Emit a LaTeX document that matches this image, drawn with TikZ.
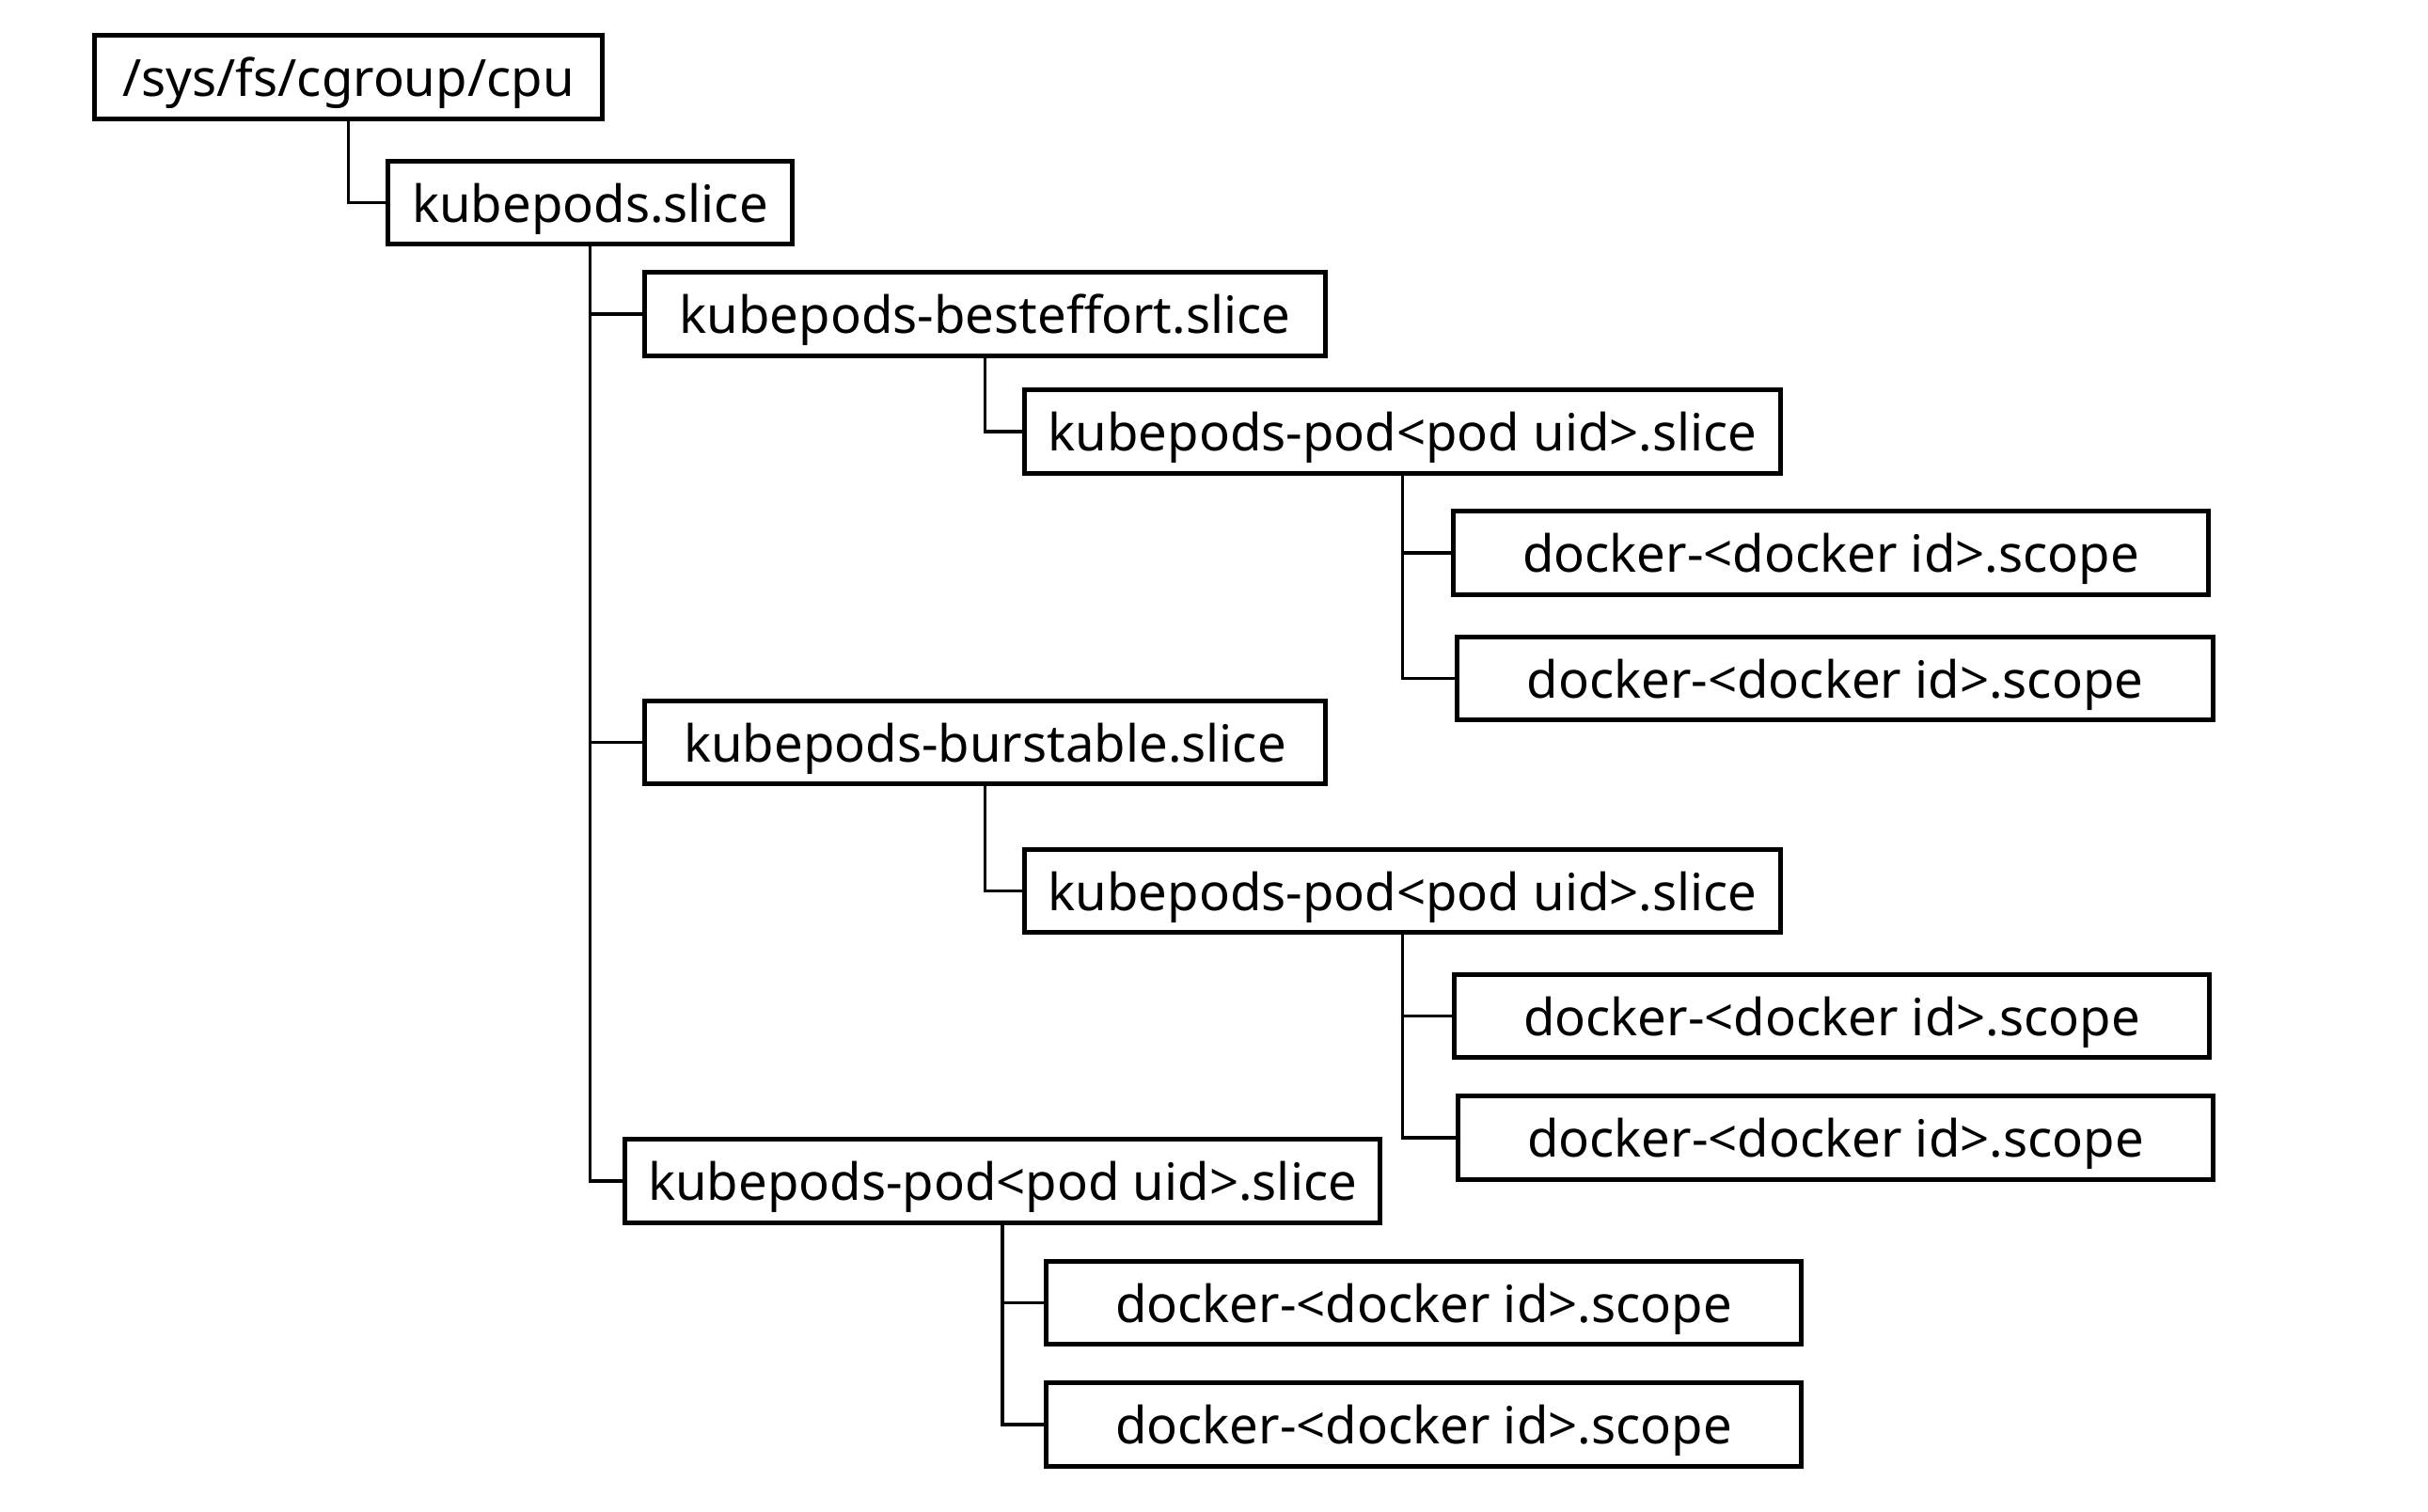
\documentclass[tikz,border=0pt]{standalone}
\usepackage{fontspec}
\setmainfont{Noto Sans}
\usetikzlibrary{positioning}

\begin{document}
\begin{tikzpicture}[
    box/.style={draw, line width=1.4pt, minimum height=0.885cm, inner sep=0pt,
        text height=11.8pt, text depth=0pt,
        font=\fontsize{15.5}{18}\selectfont},
    rootbox/.style={box, minimum width=5.405cm},
    kubebox/.style={box, minimum width=4.305cm},
    qosbox/.style={box, minimum width=7.245cm},
    podbox/.style={box, minimum width=8.035cm},
    branch/.style={line width=1pt,
        to path={(\tikztostart.south) |- (\tikztotarget.west)}},
]
    \useasboundingbox (0,0) rectangle (25.82,-16.08);

    \node[rootbox] (root)       at (3.705,-0.82)   {/sys/fs/cgroup/cpu};
    \node[kubebox] (kubepods)   at (6.275,-2.155)  {kubepods.slice};

    \node[qosbox]  (besteffort) at (10.475,-3.34)  {kubepods-besteffort.slice};
    \node[podbox]  (podA)       at (14.915,-4.59)  {kubepods-pod<pod uid>.slice};
    \node[podbox]  (dockA1)     at (19.47,-5.88)   {docker-<docker id>.scope};
    \node[podbox]  (dockA2)     at (19.515,-7.215) {docker-<docker id>.scope};

    \node[qosbox]  (burstable)  at (10.475,-7.895) {kubepods-burstable.slice};
    \node[podbox]  (podB)       at (14.915,-9.475) {kubepods-pod<pod uid>.slice};
    \node[podbox]  (dockB1)     at (19.48,-10.805) {docker-<docker id>.scope};
    \node[podbox]  (dockB2)     at (19.52,-12.10)  {docker-<docker id>.scope};

    \node[podbox]  (podC)       at (10.66,-12.56)  {kubepods-pod<pod uid>.slice};
    \node[podbox]  (dockC1)     at (15.14,-13.855) {docker-<docker id>.scope};
    \node[podbox]  (dockC2)     at (15.14,-15.15)  {docker-<docker id>.scope};

    \path
        (root)       edge [branch] (kubepods)
        (kubepods)   edge [branch] (besteffort)
        (kubepods)   edge [branch] (burstable)
        (kubepods)   edge [branch] (podC)
        (besteffort) edge [branch] (podA)
        (podA)       edge [branch] (dockA1)
        (podA)       edge [branch] (dockA2)
        (burstable)  edge [branch] (podB)
        (podB)       edge [branch] (dockB1)
        (podB)       edge [branch] (dockB2)
        (podC)       edge [branch] (dockC1)
        (podC)       edge [branch] (dockC2)
    ;
\end{tikzpicture}
\end{document}
